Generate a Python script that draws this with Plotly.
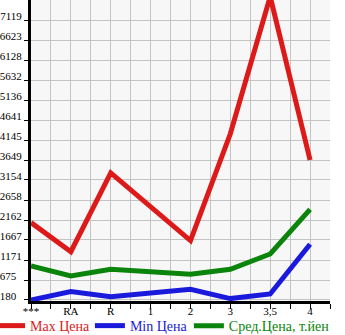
import plotly.graph_objects as go

categories = ["***", "RA", "R", "1", "2", "3", "3,5", "4"]
max_price = [2097, 1378, 3329, 2490, 1651, 4300, 7700, 3649]
min_price = [180, 387, 262, 350, 445, 215, 329, 1561]
avg_price = [1023, 775, 941, 880, 817, 941, 1320, 2428]
y_ticks = [180, 675, 1171, 1667, 2162, 2658, 3154, 3649, 4145, 4641, 5136, 5632, 6128, 6623, 7119]

xs = list(range(len(categories)))
font = "Liberation Serif"

fig = go.Figure()
series = [
    ("Max Цена", max_price, "#dd1a1a", "legend", -0.137),
    ("Min Цена", min_price, "#1a1add", "legend2", 0.197),
    ("Сред.Цена, т.йен", avg_price, "#0a840a", "legend3", 0.528),
]
legends = {}
for name, vals, color, leg, lx in series:
    fig.add_trace(go.Scatter(
        x=xs, y=vals, mode="lines", name=name, legend=leg,
        line=dict(color=color, width=5),
    ))
    legends[leg] = dict(
        orientation="h", x=lx, y=-0.03, xanchor="left", yanchor="top",
        font=dict(size=14, color=color), itemwidth=30,
        bgcolor="rgba(0,0,0,0)",
    )

fig.update_layout(
    width=345, height=335,
    margin=dict(l=31, r=15, t=0, b=34, autoexpand=False),
    paper_bgcolor="white",
    plot_bgcolor="#f7f7f7",
    font=dict(family=font, size=11, color="black"),
    showlegend=True,
    **legends,
)
fig.update_xaxes(
    range=[0, 7.5],
    tickvals=xs, ticktext=categories,
    ticks="", showline=True, linecolor="black", linewidth=3,
    showgrid=True, gridcolor="#c4c4c4", gridwidth=1,
    minor=dict(dtick=0.5, tick0=0, ticks="outside", ticklen=5, tickcolor="black",
               showgrid=True, gridcolor="#c4c4c4", gridwidth=1),
    zeroline=False, fixedrange=True,
    ticklabelstandoff=-2,
    tickfont=dict(size=11),
)
fig.update_yaxes(
    range=[155, 7615],
    tickvals=y_ticks,
    ticktext=[str(v) if v >= 1000 else str(v) + "\u2007" for v in y_ticks],
    ticks="outside", ticklen=4, tickcolor="black",
    showline=True, linecolor="black", linewidth=3,
    showgrid=True, gridcolor="#c4c4c4", gridwidth=1,
    zeroline=False, fixedrange=True,
    ticklabelshift=-4, ticklabelstandoff=0,
    tickfont=dict(size=11),
)
fig.write_html("out.html")
